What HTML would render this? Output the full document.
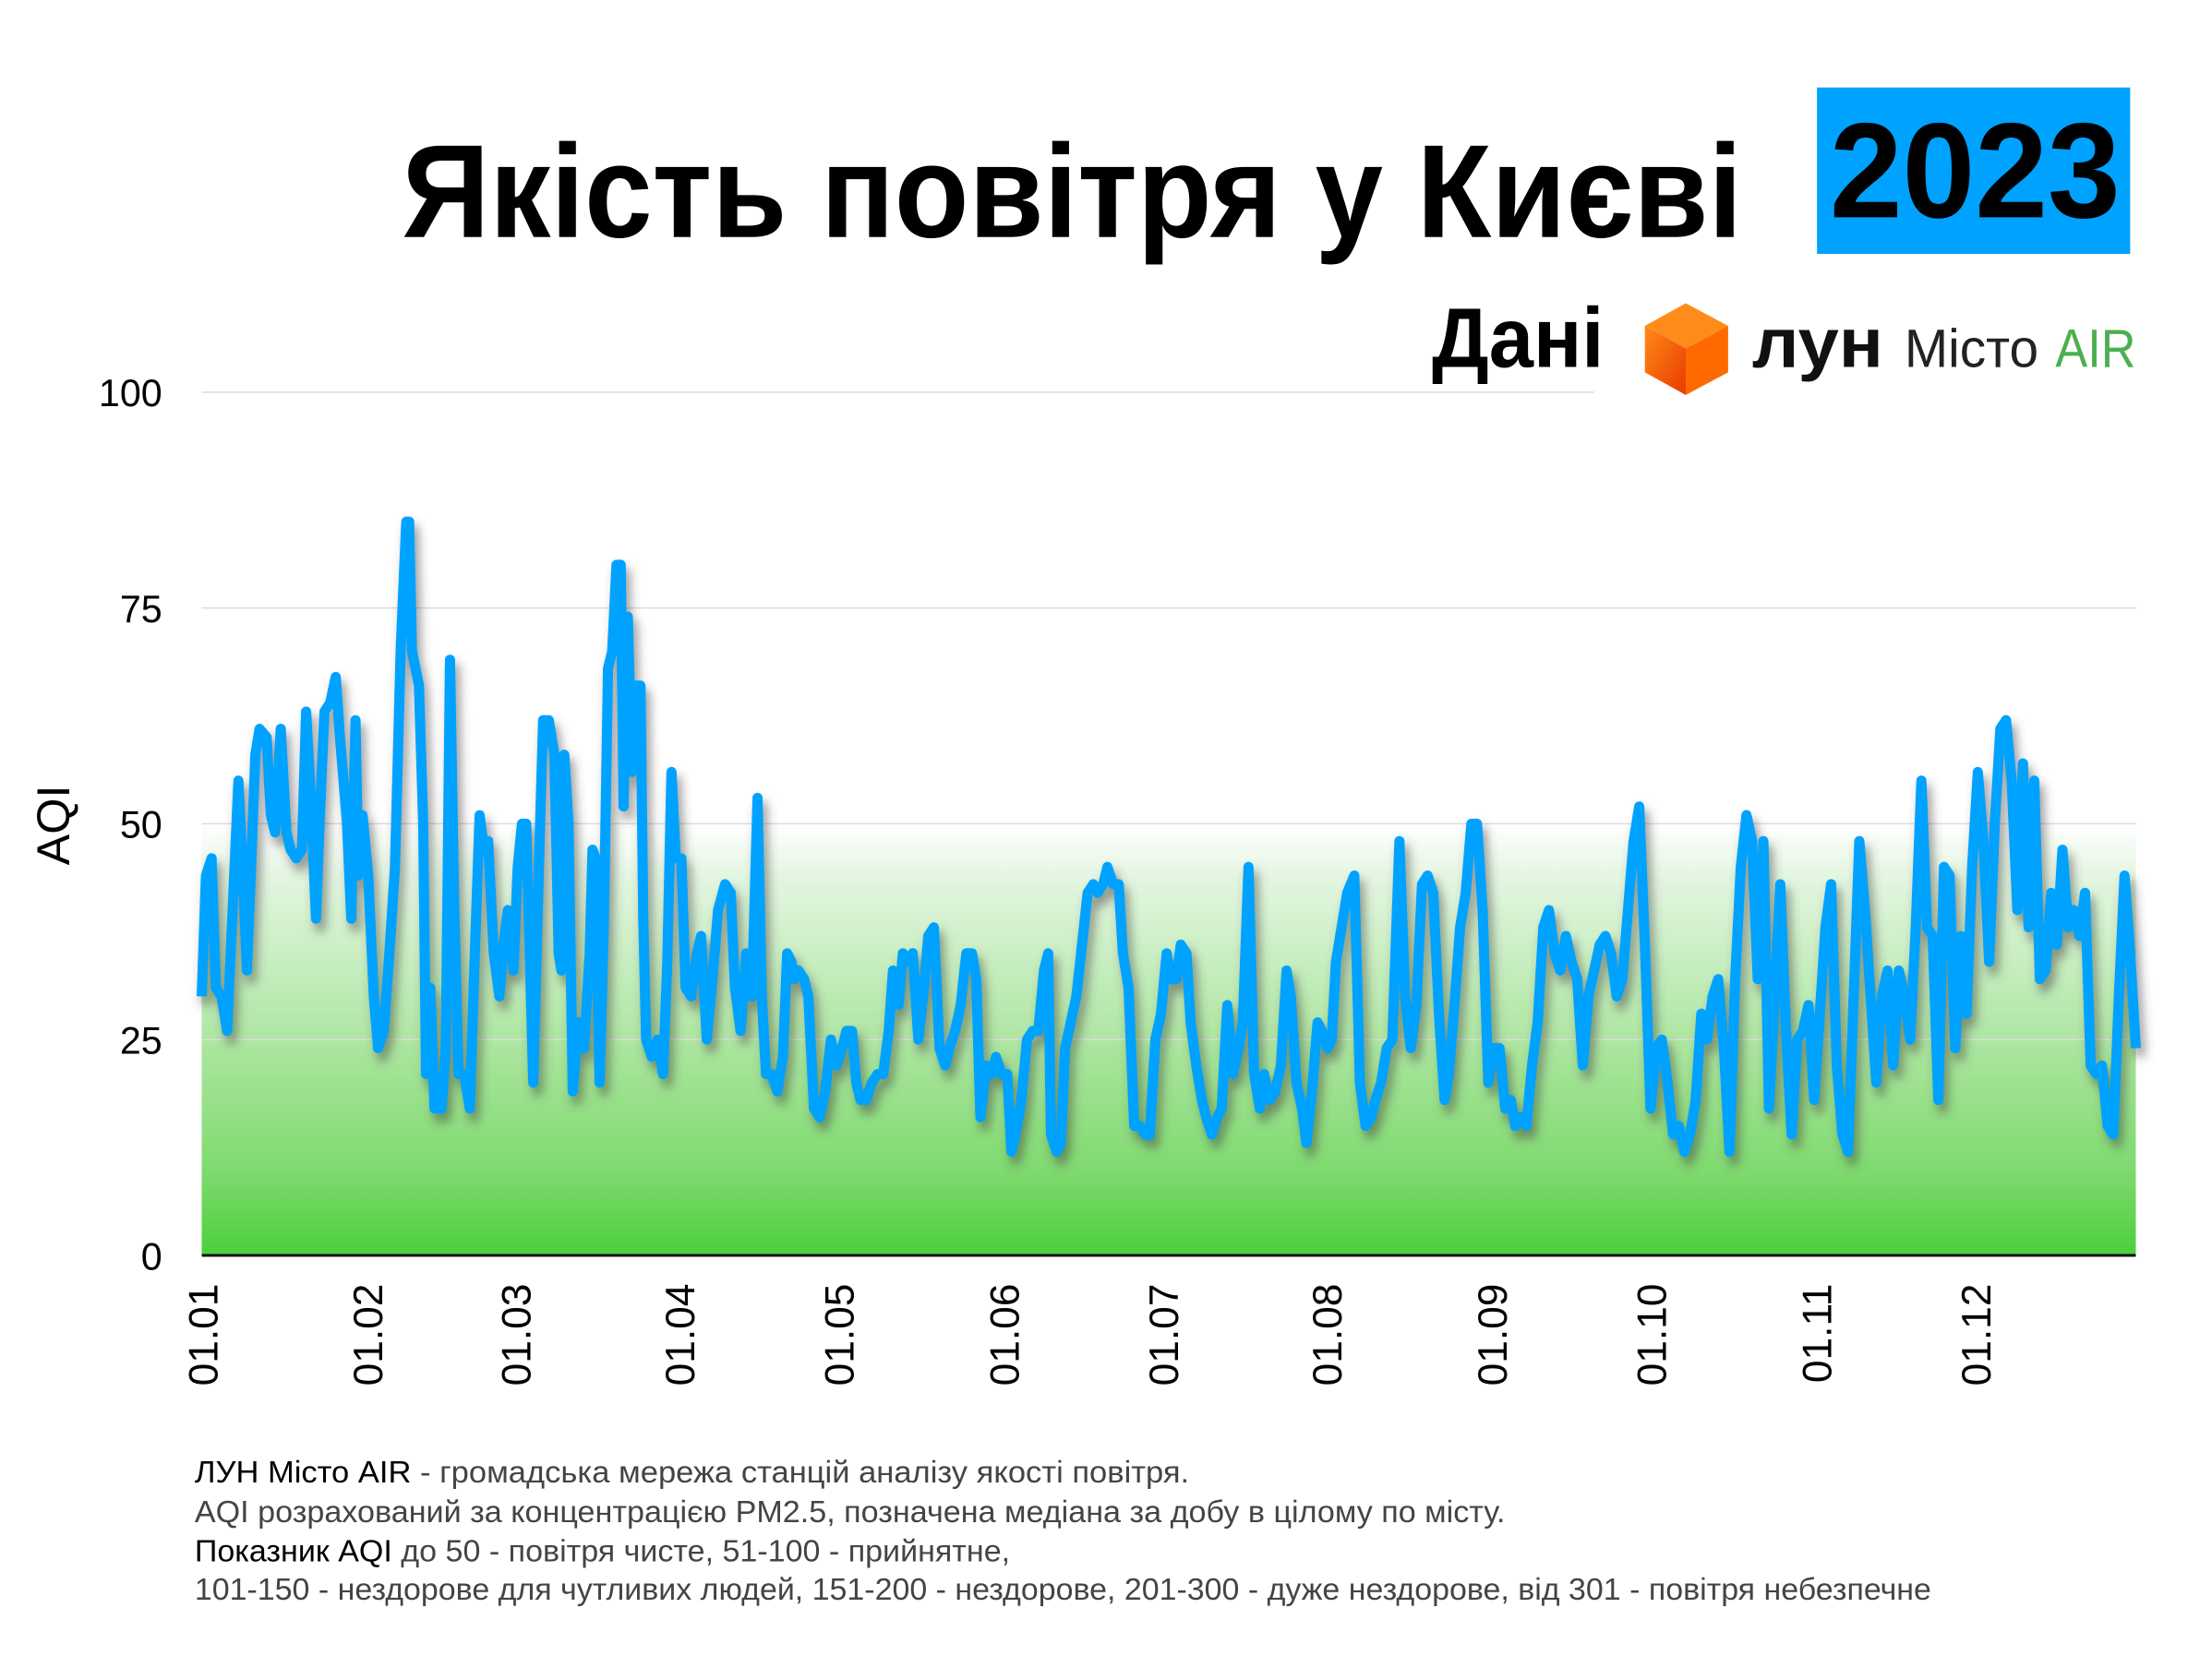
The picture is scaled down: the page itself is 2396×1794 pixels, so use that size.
<!DOCTYPE html>
<html><head><meta charset="utf-8"><style>html,body{margin:0;padding:0;background:#fff}svg{display:block}</style></head>
<body>
<svg width="2396" height="1794" viewBox="0 0 1568 1174" xmlns="http://www.w3.org/2000/svg" font-family="'Liberation Sans', sans-serif">
<defs>
<linearGradient id="g" x1="0" y1="0" x2="0" y2="1">
<stop offset="0" stop-color="#ffffff"/>
<stop offset="0.12" stop-color="#e4f6e2"/>
<stop offset="0.5" stop-color="#aee6a2"/>
<stop offset="0.8" stop-color="#80da70"/>
<stop offset="1" stop-color="#4ccf3c"/>
</linearGradient>
<linearGradient id="c1" x1="0" y1="0" x2="1" y2="1"><stop offset="0" stop-color="#ff8a1a"/><stop offset="1" stop-color="#e83a00"/></linearGradient>
<filter id="sh" filterUnits="userSpaceOnUse" x="100" y="200" width="1450" height="750"><feGaussianBlur stdDeviation="3.5"/></filter>
<polyline id="p" fill="none" vector-effect="non-scaling-stroke" stroke-linejoin="round" points="143,30 146,44 150,46 153,31 157,30 161,26 166,44 169,55 172,45 175,33 178,45 181,58 184,61 189,60 192,51 195,49 199,61 203,49 206,47 210,46 214,47 217,63 220,54 224,39 227,52 230,63 234,64 238,67 241,60 246,50 249,39 252,62 254,44 257,51 261,44 265,30 268,24 272,26 276,35 280,45 284,70 288,85 290,85 292,70 297,66 300,50 302,21 305,31 308,17 313,17 316,24 319,69 322,40 325,21 329,21 333,17 337,37 340,51 343,47 346,48 350,35 354,30 357,36 360,40 364,33 367,45 370,50 373,50 378,20 382,45 385,62 389,62 393,58 396,35 398,33 400,58 403,50 406,19 410,27 414,24 418,35 420,47 422,46 425,20 428,38 431,68 434,70 437,80 440,80 442,52 445,74 448,56 451,66 454,66 456,39 458,25 462,23 466,25 470,21 473,34 476,56 479,46 483,46 486,31 490,30 494,35 497,37 501,25 505,32 509,40 514,43 518,42 521,31 525,26 529,35 533,30 537,53 540,30 543,21 547,21 551,19 555,23 558,35 561,34 563,32 566,33 570,32 573,30 577,17 581,16 585,19 589,25 593,22 597,24 600,26 604,26 607,20 610,18 614,18 618,20 622,21 626,21 630,26 633,33 637,29 640,35 644,34 647,35 651,25 655,31 658,37 662,38 666,24 670,22 673,24 677,26 681,29 685,35 689,35 692,32 695,16 699,22 703,21 706,23 710,21 714,21 717,12 721,15 724,18 728,25 732,26 736,26 740,33 743,35 745,14 749,12 752,13 755,24 759,27 763,30 767,36 771,42 775,43 778,42 782,43 785,45 789,43 793,43 796,35 800,31 804,15 808,15 812,14 815,14 819,25 823,28 827,35 830,32 834,32 837,36 841,35 844,27 848,22 852,18 855,16 859,14 863,16 866,17 870,29 874,21 878,24 881,27 885,45 889,21 893,17 896,21 900,18 904,19 908,22 912,33 915,30 919,20 923,17 926,13 930,19 934,27 937,26 941,24 944,25 947,34 951,38 955,42 960,44 964,20 968,15 972,16 975,18 979,20 983,24 987,25 992,48 996,30 1000,24 1004,29 1008,43 1012,44 1016,42 1020,28 1024,18 1027,21 1031,29 1035,38 1039,42 1043,50 1047,50 1051,40 1055,20 1059,24 1063,24 1067,17 1071,18 1074,15 1078,16 1082,15 1086,22 1090,27 1094,38 1098,40 1102,35 1106,33 1110,37 1114,34 1118,32 1122,22 1126,30 1130,33 1134,36 1138,37 1142,35 1146,30 1150,32 1154,40 1158,48 1162,52 1166,36 1170,17 1174,24 1178,25 1182,20 1186,14 1190,15 1194,12 1198,14 1202,18 1206,28 1210,25 1214,30 1218,32 1222,24 1226,12 1230,32 1234,45 1238,51 1242,48 1246,32 1250,48 1254,17 1258,30 1262,43 1266,26 1270,14 1274,25 1278,26 1282,29 1286,18 1290,28 1294,38 1298,43 1302,22 1306,14 1310,12 1314,30 1318,48 1322,40 1326,30 1330,20 1334,30 1338,33 1342,22 1346,33 1350,30 1354,25 1358,38 1362,55 1366,38 1370,37 1374,18 1378,45 1382,44 1386,24 1390,37 1394,28 1398,45 1402,56 1406,48 1410,34 1414,50 1418,61 1422,62 1426,55 1430,40 1434,57 1438,38 1442,55 1446,32 1450,33 1454,42 1458,36 1462,47 1466,38 1470,40 1474,37 1478,42 1482,22 1486,21 1490,22 1494,15 1498,14 1502,30 1506,44 1510,35 1514,24"/>
</defs>
<rect x="143" y="584" width="1371" height="306" fill="url(#g)"/>
<g stroke="#dcdcdc" stroke-width="1">
<line x1="143" y1="278" x2="1130" y2="278"/>
<line x1="143" y1="431" x2="1514" y2="431"/>
<line x1="143" y1="584" x2="1514" y2="584"/>
<line x1="143" y1="737" x2="1514" y2="737"/>
</g>
<g filter="url(#sh)">
<use href="#p" transform="translate(3,896) scale(1,-6.12)" stroke="#444" stroke-opacity="0.5" stroke-width="12"/>
</g>
<use href="#p" transform="translate(0,890) scale(1,-6.12)" stroke="#00a2ff" stroke-width="11"/>
<line x1="143" y1="890" x2="1514" y2="890" stroke="#111" stroke-width="2"/>
<g font-size="27" fill="#000" text-anchor="end">
<text x="115" y="288">100</text>
<text x="115" y="441">75</text>
<text x="115" y="594">50</text>
<text x="115" y="747">25</text>
<text x="115" y="900">0</text>
</g>
<text transform="translate(49,585) rotate(-90)" font-size="33" text-anchor="middle">AQI</text>
<g font-size="29" fill="#000" text-anchor="end">
<text transform="translate(154,910) rotate(-90)">01.01</text>
<text transform="translate(271,910) rotate(-90)">01.02</text>
<text transform="translate(376,910) rotate(-90)">01.03</text>
<text transform="translate(492,910) rotate(-90)">01.04</text>
<text transform="translate(605,910) rotate(-90)">01.05</text>
<text transform="translate(722,910) rotate(-90)">01.06</text>
<text transform="translate(835,910) rotate(-90)">01.07</text>
<text transform="translate(951,910) rotate(-90)">01.08</text>
<text transform="translate(1068,910) rotate(-90)">01.09</text>
<text transform="translate(1181,910) rotate(-90)">01.10</text>
<text transform="translate(1298,910) rotate(-90)">01.11</text>
<text transform="translate(1411,910) rotate(-90)">01.12</text>
</g>
<text x="285" y="168" font-size="94" font-weight="bold" textLength="950" lengthAdjust="spacingAndGlyphs">Якість повітря у Києві</text>
<rect x="1288" y="62" width="222" height="118" fill="#00a2ff"/>
<text x="1297" y="154" font-size="96" font-weight="bold" textLength="206" lengthAdjust="spacingAndGlyphs">2023</text>
<text x="1015" y="260" font-size="60" font-weight="bold" textLength="122" lengthAdjust="spacingAndGlyphs">Дані</text>
<polygon points="1195,215 1225,231 1195,247 1166,231" fill="#ff8c1a"/>
<polygon points="1166,231 1195,247 1195,280 1166,264" fill="url(#c1)"/>
<polygon points="1195,247 1225,231 1225,264 1195,280" fill="#ff6a00"/>
<text x="1242" y="260" font-size="50" font-weight="bold" fill="#111" textLength="93" lengthAdjust="spacingAndGlyphs">лун</text>
<text x="1350" y="260" font-size="38" fill="#222" textLength="95" lengthAdjust="spacingAndGlyphs">Місто</text>
<text x="1457" y="260" font-size="38" fill="#4caf50" textLength="57" lengthAdjust="spacingAndGlyphs">AIR</text>
<g font-size="22" fill="#444">
<text x="138" y="1051" textLength="705" lengthAdjust="spacingAndGlyphs"><tspan fill="#000">ЛУН Місто AIR</tspan> - громадська мережа станцій аналізу якості повітря.</text>
<text x="138" y="1079" textLength="929" lengthAdjust="spacingAndGlyphs">AQI розрахований за концентрацією PM2.5, позначена медіана за добу в цілому по місту.</text>
<text x="138" y="1107" textLength="578" lengthAdjust="spacingAndGlyphs"><tspan fill="#000">Показник AQI</tspan> до 50 - повітря чисте, 51-100 - прийнятне,</text>
<text x="138" y="1134" textLength="1231" lengthAdjust="spacingAndGlyphs">101-150 - нездорове для чутливих людей, 151-200 - нездорове, 201-300 - дуже нездорове, від 301 - повітря небезпечне</text>
</g>
</svg>
</body></html>
